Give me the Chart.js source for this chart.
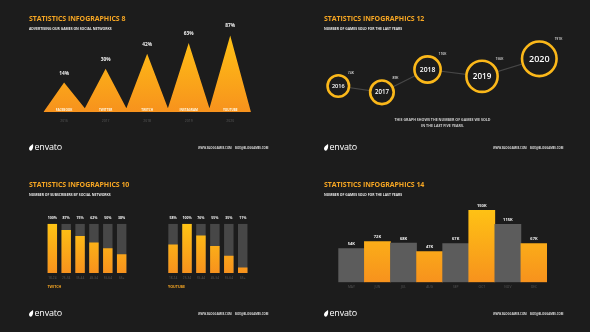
<!DOCTYPE html>
<html>
<head>
<meta charset="utf-8">
<script src="https://cdn.jsdelivr.net/npm/chart.js@4.4.0/dist/chart.umd.min.js"></script>
<style>
  html, body { margin: 0; padding: 0; background: #1c1c1c; }
  body { width: 590px; height: 332px; position: relative; overflow: hidden; font-family: 'Open Sans', sans-serif; }
  .panel { position: absolute; width: 295px; height: 166px; }
  .panel canvas { position: absolute; left: 0; top: 0; }
  .title { position: absolute; left: 29px; top: 14px; color: #f6a623; font-weight: 700; font-size: 7px; white-space: nowrap; letter-spacing: -0.05px; }
  .sub { position: absolute; left: 29px; top: 26px; color: #e8e8e8; font-weight: 700; font-size: 3.4px; white-space: nowrap; }
  .logo { position: absolute; left: 29px; top: 140px; color: #fff; font-size: 9px; white-space: nowrap; letter-spacing: -0.2px; }
  .logo svg { vertical-align: -1px; margin-right: 0.5px; }
  .web { position: absolute; top: 146.3px; color: #dcdcdc; font-weight: 700; font-size: 2.8px; white-space: nowrap; }
  .note { position: absolute; left: 0; width: 295px; text-align: center; color: #cfcfcf; font-weight: 700; font-size: 3.6px; white-space: nowrap; }
  .series { position: absolute; top: 118px; color: #f6a623; font-weight: 700; font-size: 3.6px; }
</style>
</head>
<body>
<div class="panel" style="left:0;top:0">
  <canvas id="c8" width="295" height="166"></canvas>
  <div class="title">STATISTICS INFOGRAPHICS 8</div>
  <div class="sub">ADVERTISING OUR GAMES ON SOCIAL NETWORKS</div>
</div>
<div class="panel" style="left:295px;top:0">
  <canvas id="c12" width="295" height="166"></canvas>
  <div class="title">STATISTICS INFOGRAPHICS 12</div>
  <div class="sub">NUMBER OF GAMES SOLD FOR THE LAST YEARS</div>
  <div class="note" style="top:116.5px">THIS GRAPH SHOWS THE NUMBER OF GAMES WE SOLD</div>
  <div class="note" style="top:123px">IN THE LAST FIVE YEARS.</div>
</div>
<div class="panel" style="left:0;top:166px">
  <canvas id="c10a" width="295" height="166"></canvas>
  <canvas id="c10b" width="295" height="166"></canvas>
  <div class="title">STATISTICS INFOGRAPHICS 10</div>
  <div class="sub">NUMBER OF SUBSCRIBERS BY SOCIAL NETWORKS</div>
  <div class="series" style="left:47.5px">TWITCH</div>
  <div class="series" style="left:168px">YOUTUBE</div>
</div>
<div class="panel" style="left:295px;top:166px">
  <canvas id="c14" width="295" height="166"></canvas>
  <div class="title">STATISTICS INFOGRAPHICS 14</div>
  <div class="sub">NUMBER OF GAMES SOLD FOR THE LAST YEARS</div>
</div>

<script>
// infographic 8 - triangles
const networks = ['FACEBOOK', 'TWITTER', 'TWITCH', 'INSTAGRAM', 'YOUTUBE']
const adYears = ['2016', '2017', '2018', '2019', '2020']
const adPercent = ['14%', '30%', '42%', '63%', '87%']
const peakHeights = [29.6, 43.3, 58.3, 69, 76.6]
const valleyHeight = 4

// infographic 12 - circles
const saleYears = ['2016', '2017', '2018', '2019', '2020']
const salesK = [74, 89, 110, 156, 191]
const circleX = [0, 21.7, 44.4, 71.5, 100]
const circleY = [14, 7.7, 30.5, 23.7, 41.2]

// infographic 10 - subscribers
const ageGroups = ['18-24', '25-34', '35-44', '45-54', '55-64', '65+']
const twitchSubs = [100, 87, 75, 62, 50, 38]
const youtubeSubs = [58, 100, 76, 55, 35, 11]

// infographic 14 - monthly sales
const months = ['MAY', 'JUN', 'JUL', 'AUG', 'SEP', 'OCT', 'NOV', 'DEC']
const monthSalesK = [54, 72, 68, 47, 67, 150, 115, 67]

const ORANGE_TOP = '#ffc414'
const ORANGE_BOT = '#f7921d'
const WHITE = '#f2f2f2'
const DIM = '#4b4b4b'

// footers
document.querySelectorAll('.panel').forEach(p => {
  p.insertAdjacentHTML('beforeend',
    '<div class="logo"><svg width="5" height="7" viewBox="0 0 10 14"><path d="M8 0 C9 6 8 10 5 13 C2 14 0 12 0 9 C0 6 3 3 8 0 Z" fill="#fff"/></svg>envato</div>' +
    '<div class="web" style="left:198px">WWW.BLOGGAMES.COM</div>' +
    '<div class="web" style="left:235px">BOX@BLOGGAMES.COM</div>')
})

const grad = ctx => {
  const a = ctx.chart.chartArea
  if (!a) return ORANGE_BOT
  const g = ctx.chart.ctx.createLinearGradient(0, a.top, 0, a.bottom)
  g.addColorStop(0, ORANGE_TOP)
  g.addColorStop(1, ORANGE_BOT)
  return g
}

const hidden = { display: false }
const baseOpts = (pad) => ({
  responsive: false,
  animation: false,
  devicePixelRatio: 1,
  layout: { padding: pad },
  plugins: { legend: hidden, tooltip: { enabled: false } },
})

function text(c, str, x, y, size, color, weight, align) {
  c.font = (weight || 700) + ' ' + size + 'px "Open Sans"'
  c.fillStyle = color
  c.textAlign = align || 'center'
  c.textBaseline = 'middle'
  c.fillText(str, x, y)
}

// ---- chart 8
const triPts = [{ x: -0.5, y: 0 }]
peakHeights.forEach((h, i) => {
  triPts.push({ x: i, y: h })
  triPts.push({ x: i + 0.5, y: i === peakHeights.length - 1 ? 0 : valleyHeight })
})

new Chart(document.getElementById('c8'), {
  type: 'line',
  data: { datasets: [{ data: triPts, fill: 'origin', backgroundColor: grad, borderWidth: 0, pointRadius: 0, tension: 0 }] },
  options: Object.assign(baseOpts({ left: 43.3, right: 44, top: 32, bottom: 53.7 }), {
    scales: {
      x: { type: 'linear', min: -0.5, max: 4.5, display: false },
      y: { min: 0, max: 80, display: false }
    }
  }),
  plugins: [{
    afterDatasetsDraw(chart) {
      const c = chart.ctx, xs = chart.scales.x, ys = chart.scales.y
      networks.forEach((n, i) => {
        const x = xs.getPixelForValue(i)
        text(c, adPercent[i], x, ys.getPixelForValue(peakHeights[i]) - 9.3, 4.8, WHITE)
        text(c, n, x, ys.getPixelForValue(1.7), 3.1, '#fff6e0')
        text(c, adYears[i], x, ys.getPixelForValue(0) + 8.4, 3.4, DIM, 600)
      })
    }
  }]
})

// ---- chart 12
const rad = i => Math.sqrt(salesK[i]) * 1.25
new Chart(document.getElementById('c12'), {
  type: 'line',
  data: {
    datasets: [{
      data: circleX.map((x, i) => ({ x: x, y: circleY[i] })),
      borderColor: '#474747', borderWidth: 1.2, tension: 0, clip: false,
      pointRadius: ctx => rad(ctx.dataIndex),
      pointBorderWidth: 2.6, pointBorderColor: '#fbb81a', pointBackgroundColor: '#1c1c1c'
    }]
  },
  options: Object.assign(baseOpts({ left: 43.3, right: 50.7, top: 40, bottom: 66 }), {
    scales: {
      x: { type: 'linear', min: 0, max: 100, display: false },
      y: { min: 0, max: 60, display: false }
    }
  }),
  plugins: [{
    afterDatasetsDraw(chart) {
      const c = chart.ctx
      chart.getDatasetMeta(0).data.forEach((p, i) => {
        const r = rad(i)
        text(c, saleYears[i], p.x, p.y + 0.3, r * 0.52, '#ffffff', 600)
        text(c, salesK[i] + 'K', p.x + r + 1.8, p.y - r - 2, 3.4, '#d8d8d8', 600)
      })
    }
  }]
})

// ---- chart 10
function subsChart(id, values, pad) {
  new Chart(document.getElementById(id), {
    type: 'bar',
    data: {
      labels: ageGroups,
      datasets: [
        { data: values, backgroundColor: grad, grouped: false, barPercentage: 0.68, categoryPercentage: 1 },
        { data: ageGroups.map(() => 100), backgroundColor: '#474747', grouped: false, barPercentage: 0.68, categoryPercentage: 1 }
      ]
    },
    options: Object.assign(baseOpts(pad), {
      scales: { x: { display: false }, y: { min: 0, max: 100, display: false } }
    }),
    plugins: [{
      afterDatasetsDraw(chart) {
        const c = chart.ctx, ys = chart.scales.y
        chart.getDatasetMeta(0).data.forEach((b, i) => {
          text(c, values[i] + '%', b.x, ys.getPixelForValue(100) - 6, 3.5, WHITE)
          text(c, ageGroups[i], b.x, ys.getPixelForValue(0) + 4.7, 3.2, DIM, 600)
        })
      }
    }]
  })
}
subsChart('c10a', twitchSubs, { left: 45.4, right: 166.4, top: 57.7, bottom: 59 })
subsChart('c10b', youtubeSubs, { left: 166.1, right: 45.3, top: 57.7, bottom: 59 })

// ---- chart 14
const floorK = -30
new Chart(document.getElementById('c14'), {
  type: 'bar',
  data: {
    labels: months,
    datasets: [{
      data: monthSalesK.map(v => [floorK, v]),
      backgroundColor: ctx => ctx.dataIndex % 2 ? grad(ctx) : '#5c5c5c',
      barPercentage: 1, categoryPercentage: 1, borderWidth: 0
    }]
  },
  options: Object.assign(baseOpts({ left: 43.3, right: 43, top: 40.3, bottom: 49.7 }), {
    scales: { x: { display: false }, y: { min: floorK, max: 160, display: false } }
  }),
  plugins: [{
    afterDatasetsDraw(chart) {
      const c = chart.ctx, ys = chart.scales.y
      chart.getDatasetMeta(0).data.forEach((b, i) => {
        text(c, monthSalesK[i] + 'K', b.x, ys.getPixelForValue(monthSalesK[i]) - 4.6, 4, WHITE)
        text(c, months[i], b.x, ys.getPixelForValue(floorK) + 5, 3.2, DIM, 600)
      })
    }
  }]
})
</script>
</body>
</html>
